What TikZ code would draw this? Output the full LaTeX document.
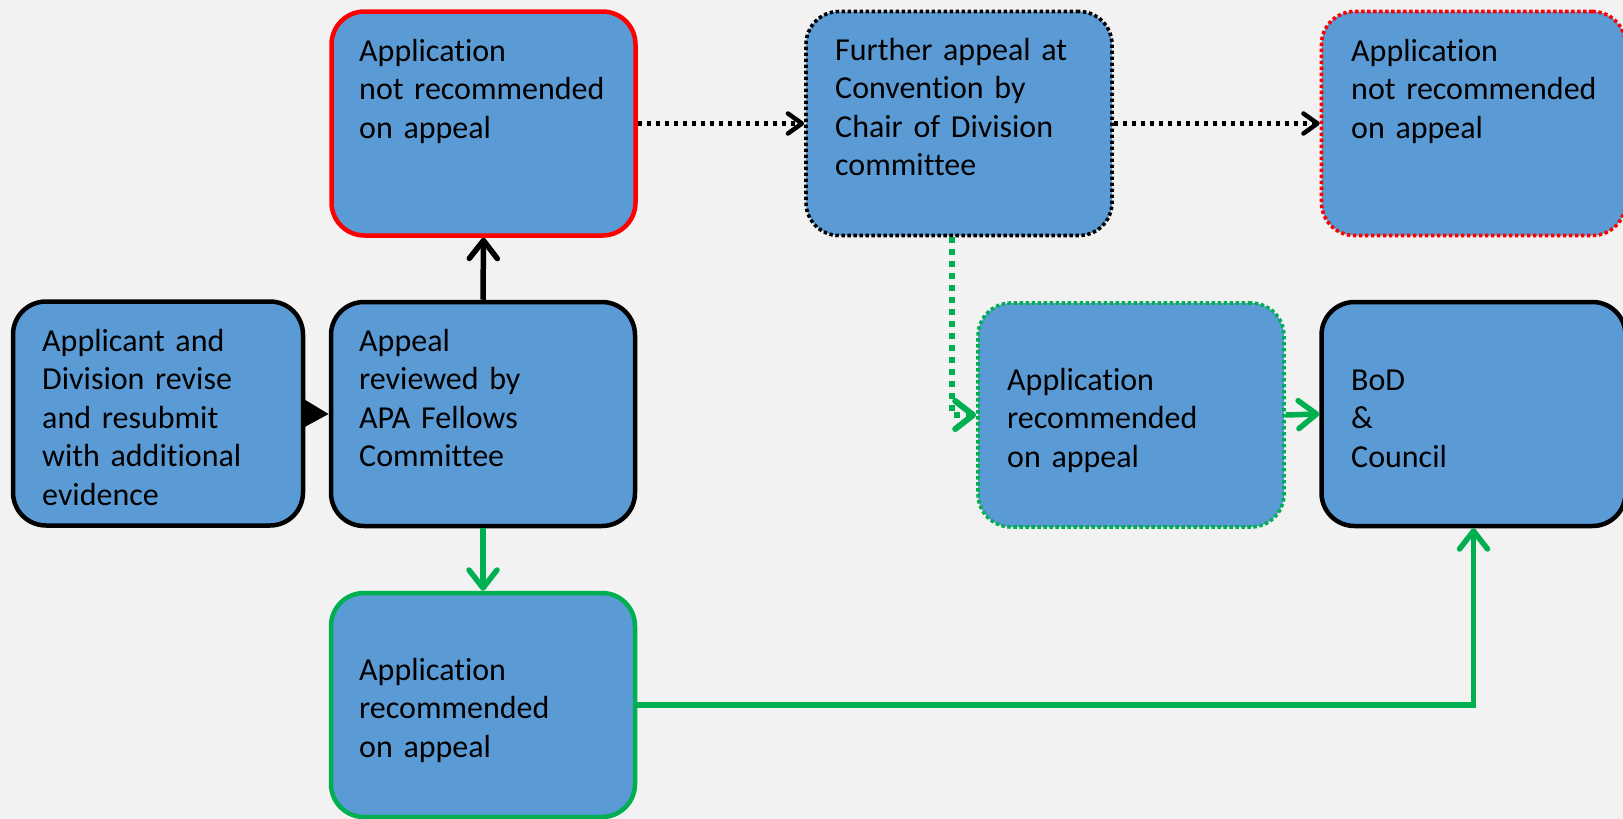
\documentclass[tikz,border=0pt]{standalone}
\usepackage{fontspec}
\setmainfont{Carlito}[Ligatures={NoCommon}]
\usetikzlibrary{arrows.meta}
\definecolor{bg}{HTML}{F2F2F2}
\definecolor{boxblue}{HTML}{5B9BD5}
\definecolor{okgreen}{HTML}{00B050}
\definecolor{nored}{HTML}{FF0000}
\begin{document}
\begin{tikzpicture}[x=1pt,y=-1pt,
  box/.style={rectangle, rounded corners=33pt, fill=boxblue, minimum width=304pt, minimum height=224pt, inner sep=0pt},
  blackbox/.style={box, draw=black, line width=4.5pt},
  redbox/.style={box, draw=nored, line width=4.5pt},
  greenbox/.style={box, draw=okgreen, line width=4.5pt},
  dotbox/.style={box, line width=3.6pt, dash pattern=on 3.4pt off 2.6pt},
  txt/.style={anchor=base west, inner sep=0pt, text width=290pt, align=left, font=\fontsize{32}{38.5}\selectfont},
  vtip/.style={-{Straight Barb[length=18pt,width=28pt,round]}},
  smalltip/.style={-{Straight Barb[length=14pt,width=20pt,round]}},
  solidarrow/.style={line width=5.5pt, vtip},
  blackdot/.style={line width=4.5pt, dash pattern=on 4.5pt off 4.5pt, smalltip},
  greendot/.style={line width=6pt, dash pattern=on 6pt off 6pt, draw=okgreen, vtip}
]
\useasboundingbox (0,0) rectangle (1623,819);
\fill[bg] (0,0) rectangle (1623,819);

% boxes
\node[redbox]   (A) at (483.5,123.5) {};
\node[blackbox] (B) at (483,414) {};
\node[blackbox, minimum width=290pt] (C) at (158,413.5) {};
\node[greenbox] (D) at (483,705) {};
\node[dotbox, draw=black, minimum width=306pt] (E) at (959,123.5) {};
\node[dotbox, draw=nored] (F) at (1473.5,123.5) {};
\node[dotbox, draw=okgreen, minimum width=306pt] (G) at (1131,415) {};
\node[blackbox] (H) at (1473.5,414) {};

% texts
\node[txt] (tA) at (359,61) {Application\\not recommended\\on appeal};
\node[txt] (tB) at (359,351) {Appeal\\reviewed by\\APA Fellows\\Committee};
\node[txt] (tC) at (42,351) {Applicant and\\Division revise\\and resubmit\\with additional\\evidence};
\node[txt] (tD) at (359,680) {Application\\recommended\\on appeal};
\node[txt] (tE) at (835,60) {Further appeal at\\Convention by\\Chair of Division\\committee};
\node[txt] (tF) at (1351,61) {Application\\not recommended\\on appeal};
\node[txt] (tG) at (1007,390) {Application\\recommended\\on appeal};
\node[txt] (tH) at (1351,390) {BoD\\\&\\Council};

% connectors
\draw[line width=4.5pt, -{Triangle[length=24pt,width=26pt]}] (C.east) -- (B.west);
\draw[solidarrow, draw=black] (B.north) -- (A.south);
\draw[solidarrow, draw=okgreen] (B.south) -- (D.north);
\draw[solidarrow, draw=okgreen] (D.east) -| (H.south);
\draw[solidarrow, draw=okgreen] (G.east) -- (H.west);
\draw[blackdot] (A.east) -- (E.west);
\draw[blackdot] (E.east) -- (F.west);
\draw[greendot] ([xshift=-7pt]E.south) |- (G.west);
\end{tikzpicture}
\end{document}
